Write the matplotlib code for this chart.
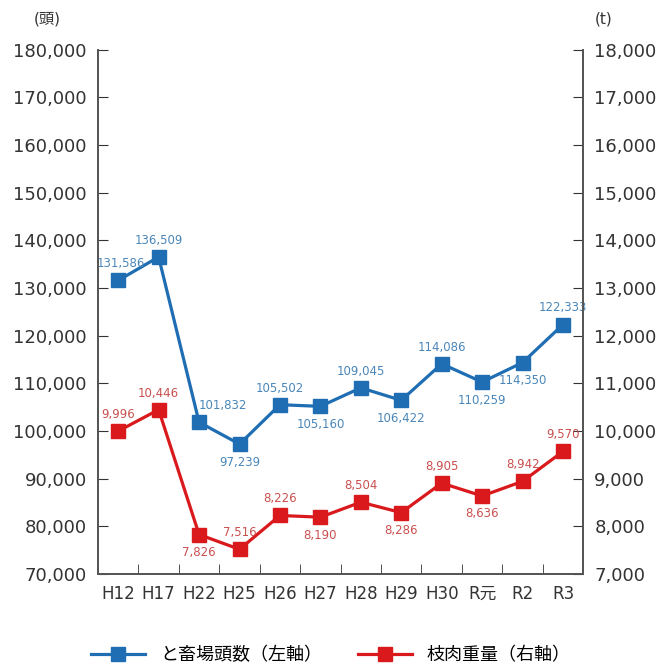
import matplotlib.pyplot as plt

plt.rcParams["font.family"] = ["DejaVu Sans", "Noto Sans CJK JP"]

years = ["H12", "H17", "H22", "H25", "H26", "H27", "H28", "H29", "H30", "R元", "R2", "R3"]
heads = [131586, 136509, 101832, 97239, 105502, 105160, 109045, 106422, 114086, 110259, 114350, 122333]
weight = [9996, 10446, 7826, 7516, 8226, 8190, 8504, 8286, 8905, 8636, 8942, 9570]

# label offsets (points) for each data label
heads_off = [(2, 12), (0, 12), (17, 12), (0, -13), (0, 12), (0, -13),
             (0, 12), (0, -13), (0, 12), (0, -13), (0, -13), (0, 12)]
weight_off = [(0, 12), (0, 12), (0, -13), (0, 12), (0, 12), (0, -13),
              (0, 12), (0, -13), (0, 12), (0, -13), (0, 12), (0, 12)]

blue = "#1f6db3"
red = "#d9191c"
text_c = "#333333"

fig = plt.figure(figsize=(6.62, 6.72), dpi=100)
ax = fig.add_axes([0.148, 0.146, 0.733, 0.78])
ax2 = ax.twinx()

x = list(range(len(years)))

l1, = ax.plot(x, heads, color=blue, lw=2.3, marker="s", ms=10,
              label="と畜場頭数（左軸）")
l2, = ax2.plot(x, weight, color=red, lw=2.3, marker="s", ms=10,
               label="枝肉重量（右軸）")

for i, v in enumerate(heads):
    ax.annotate(f"{v:,}", (i, v), xytext=heads_off[i], textcoords="offset points",
                ha="center", va="center", fontsize=8.5, color="#4a86b8")
for i, v in enumerate(weight):
    ax2.annotate(f"{v:,}", (i, v), xytext=weight_off[i], textcoords="offset points",
                 ha="center", va="center", fontsize=8.5, color="#c9504f")

ax.set_xlim(-0.5, len(years) - 0.5)
ax.set_ylim(70000, 180000)
ax2.set_ylim(7000, 18000)
ax.set_yticks(range(70000, 180001, 10000))
ax2.set_yticks(range(7000, 18001, 1000))
ax.yaxis.set_major_formatter(plt.FuncFormatter(lambda v, p: f"{int(v):,}"))
ax2.yaxis.set_major_formatter(plt.FuncFormatter(lambda v, p: f"{int(v):,}"))

ax.set_xticks(x)
ax.set_xticklabels(years)
ax.set_xticks([i + 0.5 for i in range(len(years) - 1)], minor=True)
ax.tick_params(axis="x", which="major", length=0, pad=8, labelsize=12, colors=text_c)
ax.tick_params(axis="x", which="minor", direction="in", length=7, color="#333333")
ax.tick_params(axis="y", direction="in", length=7, labelsize=13, colors=text_c, pad=8)
ax2.tick_params(axis="y", direction="in", length=7, labelsize=13, colors=text_c, pad=8)

for a in (ax, ax2):
    a.spines["top"].set_visible(False)
    for s in ("left", "right", "bottom"):
        a.spines[s].set_color("#555555")
        a.spines[s].set_linewidth(1.3)

fig.text(0.072, 0.972, "(頭)", ha="center", va="center", fontsize=11, color=text_c)
fig.text(0.912, 0.972, "(t)", ha="center", va="center", fontsize=11, color=text_c)

fig.legend(handles=[l1, l2], loc="center", bbox_to_anchor=(0.5, 0.025), ncol=2,
           frameon=False, fontsize=13, handlelength=3, columnspacing=2)

plt.savefig("out.png", dpi=100)
plt.close()
